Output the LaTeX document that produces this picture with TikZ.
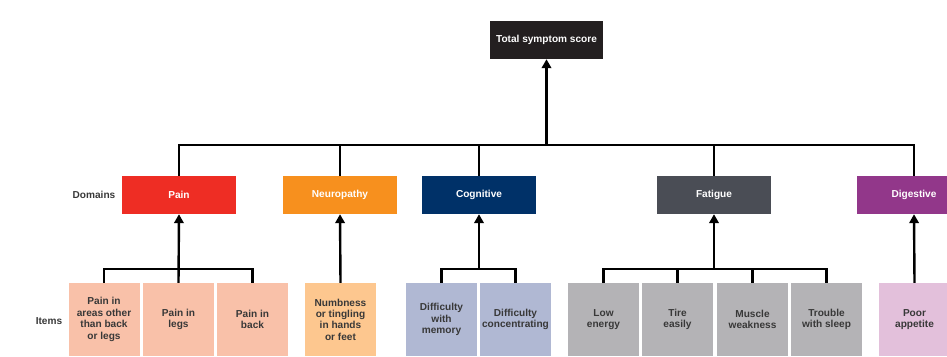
\documentclass[tikz,border=0pt]{standalone}
\usepackage{fontspec}
\setmainfont{Liberation Sans}
\usetikzlibrary{arrows.meta}
\definecolor{topc}{HTML}{231F20}
\definecolor{painc}{HTML}{EE2D24}
\definecolor{neuroc}{HTML}{F7901E}
\definecolor{cogc}{HTML}{003168}
\definecolor{fatc}{HTML}{4A4D55}
\definecolor{digc}{HTML}{92378A}
\definecolor{painl}{HTML}{F9C1A9}
\definecolor{neurol}{HTML}{FDC78F}
\definecolor{cogl}{HTML}{B0B8D3}
\definecolor{fatl}{HTML}{B4B3B6}
\definecolor{digl}{HTML}{E3C0DB}
\definecolor{txt}{HTML}{383838}
\tikzset{
  topbox/.style={fill=topc, text=white, minimum width=113pt, minimum height=38pt, inner sep=0pt, font=\fontsize{10.1}{11.4}\selectfont\bfseries},
  dombox/.style={fill=#1, text=white, minimum width=114pt, minimum height=38pt, inner sep=0pt, font=\fontsize{10.1}{11.4}\selectfont\bfseries},
  itembox/.style={fill=#1, text=txt, minimum width=71pt, minimum height=73pt, inner sep=0pt, align=center, font=\fontsize{10.1}{11.4}\selectfont\bfseries},
  rowlabel/.style={text=txt, inner sep=0pt, font=\fontsize{10.1}{11.4}\selectfont\bfseries},
  conn/.style={draw=black, line width=2.4pt},
  arr/.style={draw=black, line width=2.4pt, -{Triangle[length=9pt,width=9.5pt]}},
}
\begin{document}
\begin{tikzpicture}[x=1pt,y=-1pt]
\useasboundingbox (0,0) rectangle (947,356);
% top
\node[topbox] (top) at (546.5,40) {Total symptom score};
% domains
\node[dombox=painc] (pain) at (179,195) {Pain};
\node[dombox=neuroc] (neuro) at (340,195) {Neuropathy};
\node[dombox=cogc] (cog) at (479,195) {Cognitive};
\node[dombox=fatc] (fat) at (714,195) {Fatigue};
\node[dombox=digc] (dig) at (914,195) {Digestive};
\node[rowlabel] (domlab) at (94,195) {Domains};
% items
\node[itembox=painl] (p1) at (104,319.5) {Pain in\\areas other\\than back\\or legs};
\node[itembox=painl] (p2) at (178.5,319.5) {Pain in\\legs};
\node[itembox=painl] (p3) at (252.5,319.5) {Pain in\\back};
\node[itembox=neurol] (n1) at (340.5,319.5) {Numbness\\or tingling\\in hands\\or feet};
\node[itembox=cogl] (c1) at (441.5,319.5) {Difficulty\\with\\memory};
\node[itembox=cogl] (c2) at (515.5,319.5) {Difficulty\\concentrating};
\node[itembox=fatl] (f1) at (603.5,319.5) {Low\\energy};
\node[itembox=fatl] (f2) at (677.5,319.5) {Tire\\easily};
\node[itembox=fatl] (f3) at (752.5,319.5) {Muscle\\weakness};
\node[itembox=fatl] (f4) at (826.5,319.5) {Trouble\\with sleep};
\node[itembox=digl] (d1) at (914.5,319.5) {Poor\\appetite};
\node[rowlabel] (itemlab) at (49,321) {Items};
% bus coordinates
\coordinate (bus) at (0,145);
\coordinate (sbus) at (0,269);
% top level
\draw[conn] (pain.north) -- (pain.north |- bus) -- (dig.north |- bus) -- (dig.north);
\draw[conn] (neuro.north) -- (neuro.north |- bus);
\draw[conn] (cog.north) -- (cog.north |- bus);
\draw[conn] (fat.north) -- (fat.north |- bus);
\draw[arr] (top.south |- bus) -- (top.south);
% pain
\draw[conn] (p1.north) -- (p1.north |- sbus) -- (p3.north |- sbus) -- (p3.north);
\draw[arr] (p2.north) -- (pain.south);
% neuropathy
\draw[arr] (n1.north) -- (neuro.south);
% cognitive
\draw[conn] (c1.north) -- (c1.north |- sbus) -- (c2.north |- sbus) -- (c2.north);
\draw[arr] (cog.south |- sbus) -- (cog.south);
% fatigue
\draw[conn] (f1.north) -- (f1.north |- sbus) -- (f4.north |- sbus) -- (f4.north);
\draw[conn] (f2.north) -- (f2.north |- sbus);
\draw[conn] (f3.north) -- (f3.north |- sbus);
\draw[arr] (fat.south |- sbus) -- (fat.south);
% digestive
\draw[arr] (d1.north) -- (dig.south);
\end{tikzpicture}
\end{document}
